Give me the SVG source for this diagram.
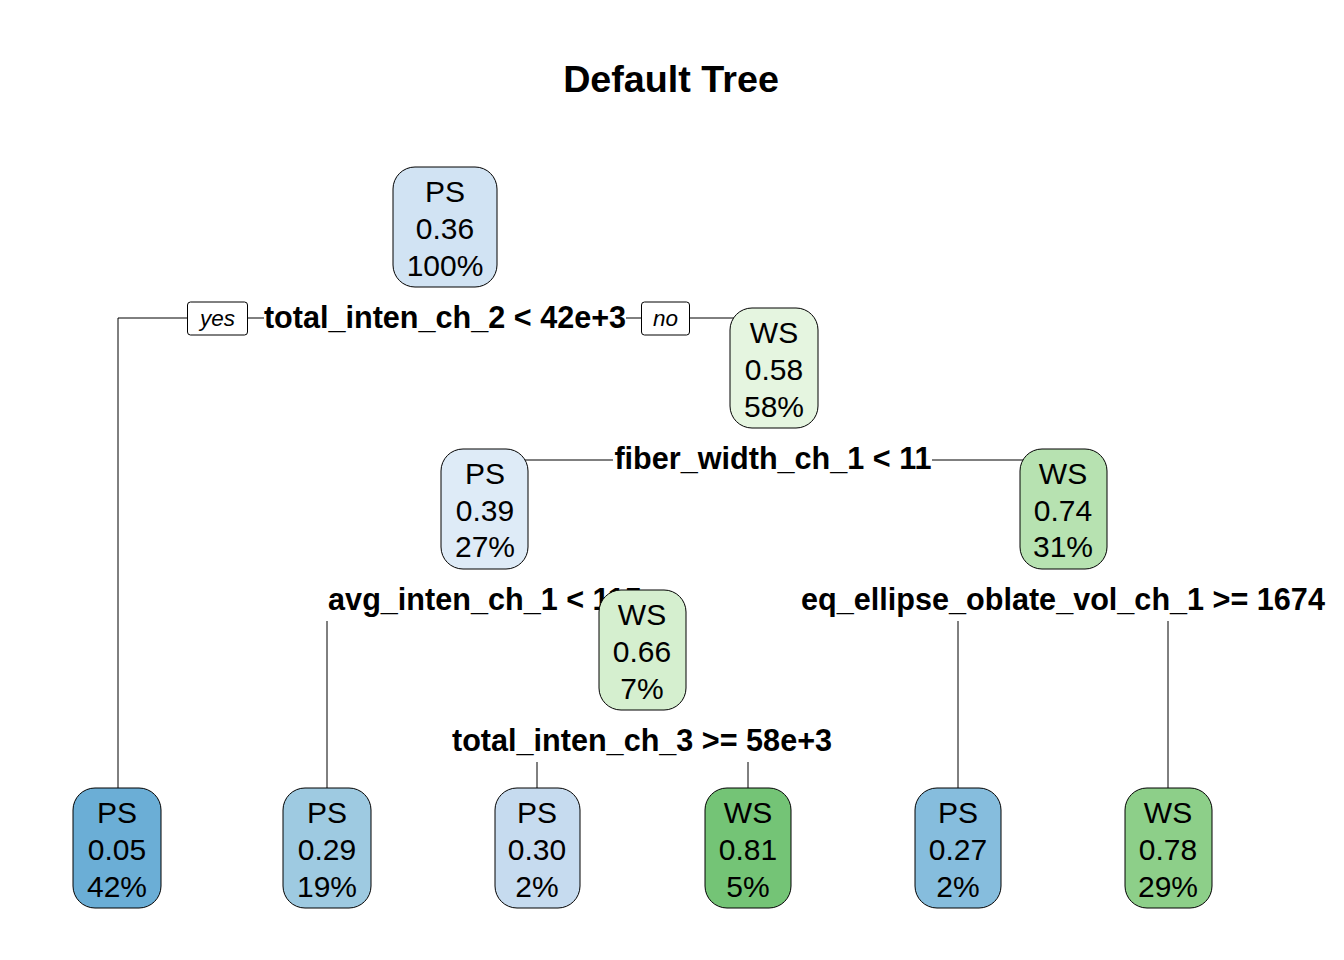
<svg xmlns="http://www.w3.org/2000/svg" width="1344" height="960" viewBox="0 0 1344 960">
<style>
  .bg { fill: #ffffff; }
  .box { stroke: #000; stroke-width: 1; }
  .nt { font-family: "Liberation Sans", Arial, sans-serif; font-size: 30px; text-anchor: middle; fill: #000; }
  .lab { font-family: "Liberation Sans", Arial, sans-serif; font-size: 30.6px; font-weight: bold; text-anchor: middle; fill: #000; }
  .yn { font-family: "Liberation Sans", Arial, sans-serif; font-size: 22.5px; font-style: italic; text-anchor: middle; fill: #000; }
  .ynb { fill: #fff; stroke: #000; stroke-width: 1; }
  .title { font-family: "Liberation Sans", Arial, sans-serif; font-size: 37.7px; font-weight: bold; text-anchor: middle; fill: #000; }
  .conn path { fill: none; stroke: #000; stroke-width: 1; }
</style>
<rect class="bg" x="0" y="0" width="1344" height="960"/>
<text class="title" x="671" y="92">Default Tree</text>

<g id="connectors" class="conn">
  <path d="M187,318 H118 V788"/>
  <path d="M248,318 H264"/>
  <path d="M626,318 H641"/>
  <path d="M690,318 H774"/>
  <path d="M613,460 H490"/>
  <path d="M932,460 H1060"/>
  <path d="M327,621 V788"/>
  <path d="M958,621 V788"/>
  <path d="M1168,621 V788"/>
  <path d="M537,762 V788"/>
  <path d="M748,762 V788"/>
</g>

<g id="node1">
  <rect class="box" x="393" y="167" width="104" height="120" rx="22" ry="22" fill="#D1E3F3"/>
  <text class="nt" x="445" y="201.5">PS</text>
  <text class="nt" x="445" y="238.5">0.36</text>
  <text class="nt" x="445" y="275.5">100%</text>
  <rect class="ynb" x="187.5" y="302" width="60" height="33" rx="3"/>
  <text class="yn" x="217.5" y="326">yes</text>
  <text class="lab" x="445" y="328">total_inten_ch_2 &lt; 42e+3</text>
  <rect class="ynb" x="641.5" y="302" width="48" height="33" rx="3"/>
  <text class="yn" x="665.5" y="326">no</text>
</g>

<g id="node2">
  <rect class="box" x="730" y="308" width="88" height="120" rx="22" ry="22" fill="#E5F5E0"/>
  <text class="nt" x="774" y="342.5">WS</text>
  <text class="nt" x="774" y="379.5">0.58</text>
  <text class="nt" x="774" y="416.5">58%</text>
  <text class="lab" x="773" y="469">fiber_width_ch_1 &lt; 11</text>
</g>

<g id="node3">
  <rect class="box" x="441" y="449" width="87" height="120" rx="22" ry="22" fill="#DEEBF7"/>
  <text class="nt" x="485" y="483.5">PS</text>
  <text class="nt" x="485" y="520.5">0.39</text>
  <text class="nt" x="485" y="557">27%</text>
  <text class="lab" x="485" y="610">avg_inten_ch_1 &lt; 115</text>
</g>

<g id="node4">
  <rect class="box" x="1020" y="449" width="87" height="120" rx="22" ry="22" fill="#B7E2B1"/>
  <text class="nt" x="1063" y="483.5">WS</text>
  <text class="nt" x="1063" y="520.5">0.74</text>
  <text class="nt" x="1063" y="557">31%</text>
  <text class="lab" x="1063" y="610">eq_ellipse_oblate_vol_ch_1 &gt;= 1674</text>
</g>

<g id="node5">
  <rect class="box" x="599" y="590" width="87" height="120" rx="22" ry="22" fill="#D5EFCF"/>
  <text class="nt" x="642" y="624.5">WS</text>
  <text class="nt" x="642" y="661.5">0.66</text>
  <text class="nt" x="642" y="698.5">7%</text>
  <text class="lab" x="642" y="751">total_inten_ch_3 &gt;= 58e+3</text>
</g>

<g id="leaf1">
  <rect class="box" x="73" y="788" width="88" height="120" rx="22" ry="22" fill="#6BAED6"/>
  <text class="nt" x="117" y="822.5">PS</text>
  <text class="nt" x="117" y="859.5">0.05</text>
  <text class="nt" x="117" y="896.5">42%</text>
</g>
<g id="leaf2">
  <rect class="box" x="283" y="788" width="88" height="120" rx="22" ry="22" fill="#9ECAE1"/>
  <text class="nt" x="327" y="822.5">PS</text>
  <text class="nt" x="327" y="859.5">0.29</text>
  <text class="nt" x="327" y="896.5">19%</text>
</g>
<g id="leaf3">
  <rect class="box" x="495" y="788" width="85" height="120" rx="22" ry="22" fill="#C6DBEF"/>
  <text class="nt" x="537" y="822.5">PS</text>
  <text class="nt" x="537" y="859.5">0.30</text>
  <text class="nt" x="537" y="896.5">2%</text>
</g>
<g id="leaf4">
  <rect class="box" x="705" y="788" width="86" height="120" rx="22" ry="22" fill="#74C476"/>
  <text class="nt" x="748" y="822.5">WS</text>
  <text class="nt" x="748" y="859.5">0.81</text>
  <text class="nt" x="748" y="896.5">5%</text>
</g>
<g id="leaf5">
  <rect class="box" x="915" y="788" width="86" height="120" rx="22" ry="22" fill="#86BDDD"/>
  <text class="nt" x="958" y="822.5">PS</text>
  <text class="nt" x="958" y="859.5">0.27</text>
  <text class="nt" x="958" y="896.5">2%</text>
</g>
<g id="leaf6">
  <rect class="box" x="1125" y="788" width="87" height="120" rx="22" ry="22" fill="#8DCF89"/>
  <text class="nt" x="1168" y="822.5">WS</text>
  <text class="nt" x="1168" y="859.5">0.78</text>
  <text class="nt" x="1168" y="896.5">29%</text>
</g>
</svg>
